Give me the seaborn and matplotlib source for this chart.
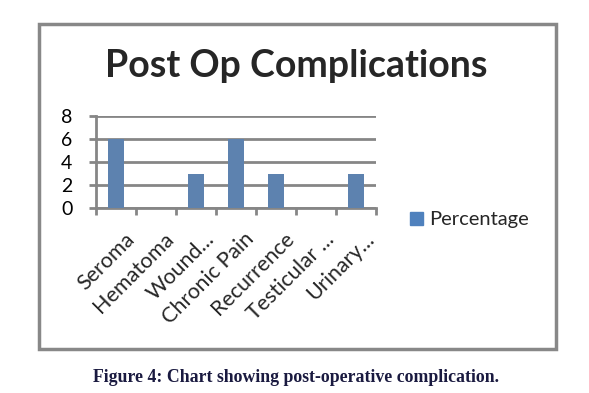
import matplotlib
matplotlib.use('Agg')
import matplotlib.pyplot as plt
import matplotlib.patches as mpatches
import matplotlib.transforms as mtransforms
import pandas as pd
import seaborn as sns

categories = ['Seroma', 'Hematoma', 'Wound...', 'Chronic Pain', 'Recurrence', 'Testicular ...', 'Urinary...']
percentage = [6, 0, 3, 6, 3, 0, 3]
yticks = [0, 2, 4, 6, 8]

df = pd.DataFrame({'Complication': categories, 'Percentage': percentage})

sns.set_style('white')
plt.rcParams['font.family'] = ['Lato', 'DejaVu Sans']

fig = plt.figure(figsize=(5.89, 3.93), dpi=100)
ax = fig.add_axes([96/589, 1 - 208/393, 280/589, 92/393])

bar_col = '#4F81BD'
grid_col = '#868686'
sns.barplot(data=df, x='Complication', y='Percentage', color=bar_col, width=0.4, ax=ax,
            zorder=3, linewidth=0)

ax.set_ylim(0, 8)
ax.set_xlim(-0.5, len(categories) - 0.5)
ax.set_yticks(yticks)
ax.set_yticklabels([str(t) for t in yticks], fontsize=14)
ax.yaxis.grid(True, color=grid_col, linewidth=2)
ax.set_axisbelow(True)
ax.set_xlabel('')
ax.set_ylabel('')

for s in ['top', 'right']:
    ax.spines[s].set_visible(False)
for s in ['left', 'bottom']:
    ax.spines[s].set_color(grid_col)
    ax.spines[s].set_linewidth(2)

ax.tick_params(axis='y', left=True, length=5, width=2, color=grid_col, pad=12, labelcolor='black')
ax.set_xticks(range(len(categories)))
ax.set_xticklabels(categories, rotation=45, ha='right', rotation_mode='anchor', fontsize=15.5)
ax.tick_params(axis='x', which='major', length=0, pad=15)
ax.set_xticks([i - 0.5 for i in range(len(categories) + 1)], minor=True)
ax.tick_params(axis='x', which='minor', length=5, width=2, color=grid_col, bottom=True)

# nudge rotated labels to the right, like the original
shift = mtransforms.ScaledTranslation(8/100, 0, fig.dpi_scale_trans)
for lbl in ax.get_xticklabels():
    lbl.set_transform(lbl.get_transform() + shift)

handle = mpatches.Patch(color=bar_col, label='Percentage')
fig.legend(handles=[handle], loc='center left', bbox_to_anchor=(410/589, 1 - 220/393),
           frameon=False, borderpad=0, borderaxespad=0, handlelength=0.65, handleheight=0.65,
           handletextpad=0.3, fontsize=14.5)

fig.text(296/589, 1 - 66/393, 'Post Op Complications', ha='center', va='center',
         fontsize=27, fontweight='bold')

border = mpatches.Rectangle((39/589, 1 - 349/393), (556 - 39)/589, (349 - 24)/393,
                            transform=fig.transFigure, fill=False, edgecolor='#888888', linewidth=2.5)
fig.patches.append(border)

fig.text(296/589, 1 - 377/393, 'Figure 4: Chart showing post-operative complication.',
         ha='center', va='center', fontsize=12.8, fontweight='bold',
         family='Liberation Serif', color='#1a1a40')

fig.savefig('out.png', dpi=100)
